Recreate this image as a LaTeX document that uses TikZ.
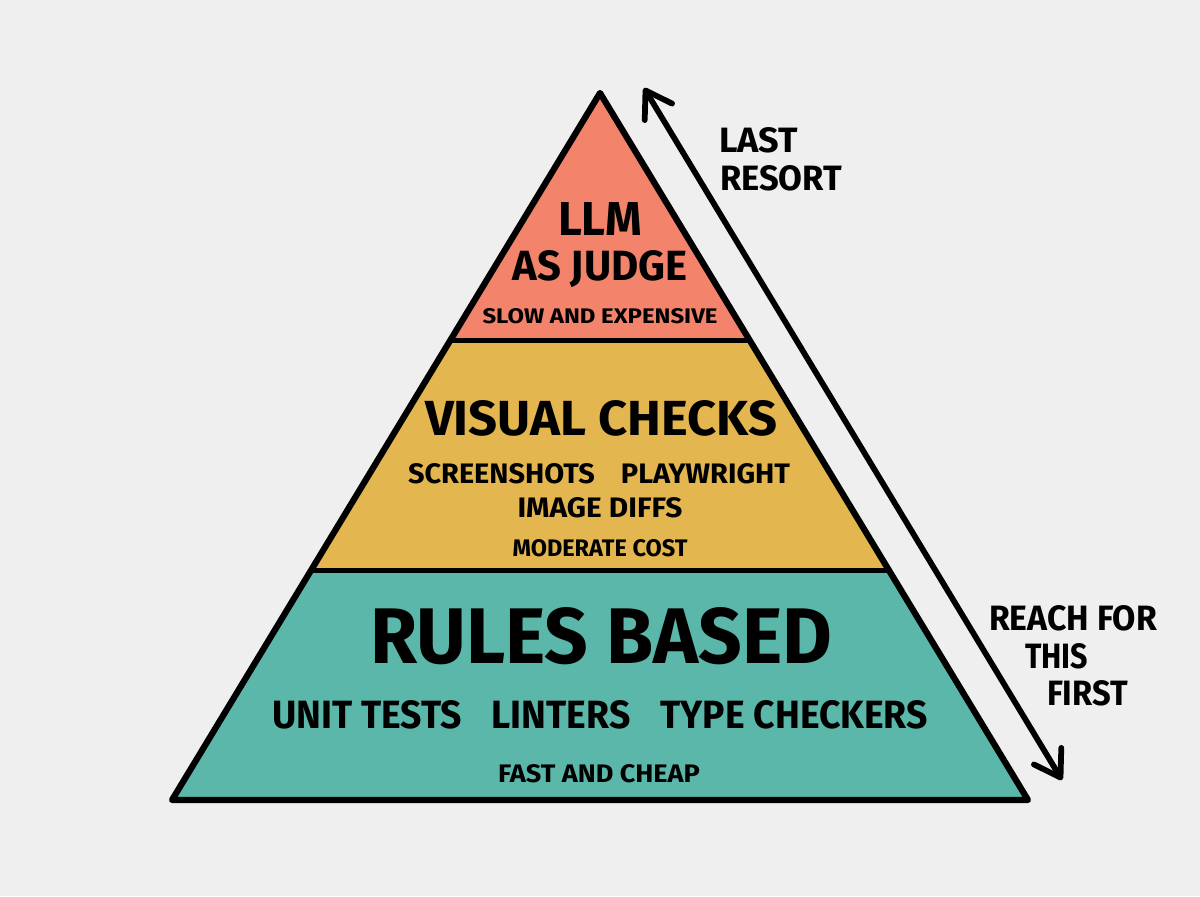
\documentclass[tikz,border=0pt]{standalone}
\usepackage{fontspec}
\setmainfont{Fira Sans}
\usetikzlibrary{arrows.meta}
\definecolor{bgcol}{HTML}{EFEFEF}
\definecolor{tierred}{HTML}{F3836B}
\definecolor{tieryellow}{HTML}{E4B64F}
\definecolor{tierteal}{HTML}{5AB7A9}
\newcommand{\fitbox}[3]{\resizebox{#1}{#2}{\bfseries #3}}
\tikzset{
  lbl/.style={inner sep=0pt, outer sep=0pt, anchor=base},
  sidelbl/.style={inner sep=0pt, outer sep=0pt, anchor=base west},
  outline/.style={line width=0.125cm, line join=round, line cap=round},
  divider/.style={line width=0.1cm, line cap=round},
  flowarrow/.style={line width=0.115cm, line cap=round,
    {Straight Barb[length=0.5cm,width=0.64cm,round]}-{Straight Barb[length=0.5cm,width=0.64cm,round]}}
}
\begin{document}
\begin{tikzpicture}[x=0.02cm,y=-0.02cm]
\fill[bgcol] (0,0) rectangle (1200,896);
\useasboundingbox (0,0) rectangle (1200,896);
% pyramid corners
\coordinate (apex) at (600,93);
\coordinate (bl) at (172,800);
\coordinate (br) at (1028,800);
\coordinate (l1) at (450.5,340);
\coordinate (r1) at (749.5,340);
\coordinate (l2) at (311.2,570);
\coordinate (r2) at (888.8,570);
% tiers
\fill[tierred] (apex) -- (l1) -- (r1) -- cycle;
\fill[tieryellow] (l1) -- (l2) -- (r2) -- (r1) -- cycle;
\fill[tierteal] (l2) -- (bl) -- (br) -- (r2) -- cycle;
\draw[divider] (l1) -- (r1);
\draw[divider] (l2) -- (r2);
\draw[outline] (apex) -- (bl) -- (br) -- cycle;
% arrow
\coordinate (arrtop) at (644,88);
\coordinate (arrbot) at (1062,780);
\draw[flowarrow] (arrbot) -- (arrtop);
% top tier
\node[lbl] (llm) at (600,235) {\fitbox{1.68cm}{0.66cm}{LLM}};
\node[lbl] (judge) at (600,280) {\fitbox{3.5cm}{0.6cm}{AS JUDGE}};
\node[lbl] (slow) at (600,323) {\fitbox{4.7cm}{0.3cm}{SLOW AND EXPENSIVE}};
% middle tier
\node[lbl] (visual) at (601,435) {\fitbox{7.04cm}{0.7cm}{VISUAL CHECKS}};
\node[lbl] (shots) at (599,483) {\fitbox{7.64cm}{0.4cm}{SCREENSHOTS\hspace{0.9em}PLAYWRIGHT}};
\node[lbl] (diffs) at (600,517) {\fitbox{3.3cm}{0.4cm}{IMAGE DIFFS}};
\node[lbl] (moderate) at (600,556) {\fitbox{3.5cm}{0.34cm}{MODERATE COST}};
% bottom tier
\node[lbl] (rules) at (601,663) {\fitbox{9.24cm}{1.12cm}{RULES BASED}};
\node[lbl] (tools) at (600,728) {\fitbox{13.12cm}{0.56cm}{UNIT TESTS\hspace{0.8em}LINTERS\hspace{0.8em}TYPE CHECKERS}};
\node[lbl] (fast) at (599,782) {\fitbox{4.04cm}{0.36cm}{FAST AND CHEAP}};
% side labels
\node[sidelbl] (last) at (719,152) {\fitbox{1.58cm}{0.5cm}{LAST}};
\node[sidelbl] (resort) at (720,190) {\fitbox{2.44cm}{0.5cm}{RESORT}};
\node[sidelbl] (reach) at (989,630) {\fitbox{3.36cm}{0.5cm}{REACH FOR}};
\node[sidelbl] (this) at (1025,668) {\fitbox{1.26cm}{0.5cm}{THIS}};
\node[sidelbl] (first) at (1047,705) {\fitbox{1.62cm}{0.5cm}{FIRST}};
\end{tikzpicture}
\end{document}
